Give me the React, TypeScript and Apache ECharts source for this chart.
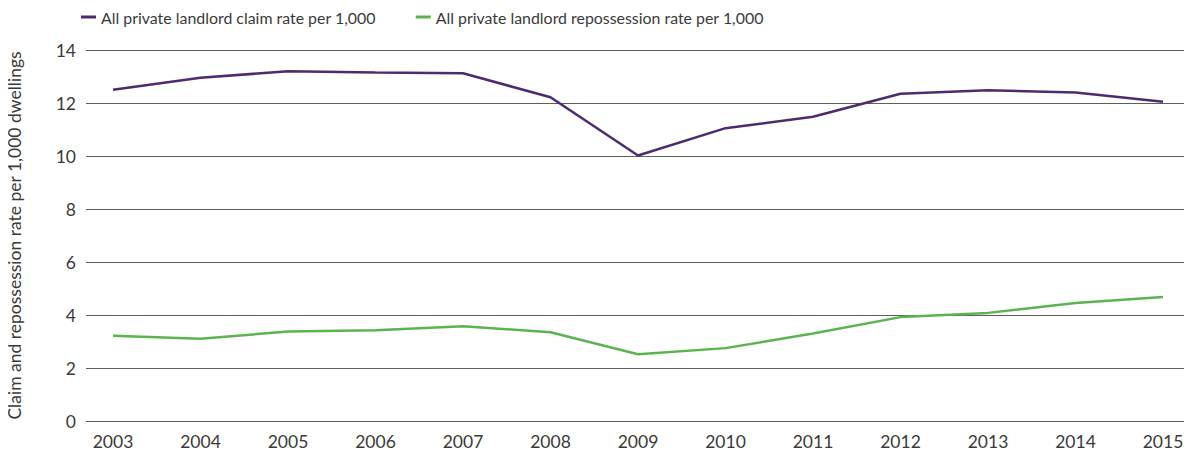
import React, { useEffect, useRef } from "react";
import * as echarts from "echarts";

const years = ["2003", "2004", "2005", "2006", "2007", "2008", "2009", "2010", "2011", "2012", "2013", "2014", "2015"];
const claimRate = [12.5, 12.95, 13.2, 13.15, 13.12, 12.22, 10.02, 11.05, 11.48, 12.35, 12.48, 12.4, 12.05];
const repossessionRate = [3.22, 3.1, 3.38, 3.42, 3.58, 3.35, 2.52, 2.75, 3.3, 3.92, 4.08, 4.45, 4.68];
const seriesNames = ["All private landlord claim rate per 1,000", "All private landlord repossession rate per 1,000"];
const yAxisTitle = "Claim and repossession rate per 1,000 dwellings";

const FONT = "Lato";
const TEXT = "#3a3a3a";

export default function App() {
  const ref = useRef<HTMLDivElement>(null);
  useEffect(() => {
    if (!ref.current) return;
    const chart = echarts.init(ref.current, undefined, { renderer: "svg" });
    chart.setOption({
      animation: false,
      textStyle: { fontFamily: FONT },
      legend: {
        left: 76,
        top: 4,
        icon: "rect",
        itemWidth: 15,
        itemHeight: 3,
        itemGap: 40,
        textStyle: { fontFamily: FONT, fontSize: 15.9, color: TEXT },
        data: seriesNames,
      },
      grid: [
        { left: 86, right: 4, top: 50, bottom: 36, outerBoundsMode: "none" },
        { left: 113, right: 29, top: 50, bottom: 36, outerBoundsMode: "none" },
      ],
      xAxis: [
        {
          gridIndex: 0, type: "value", min: 0, max: 1, show: false,
        },
        {
          gridIndex: 1,
          type: "category",
          data: years,
          boundaryGap: false,
          axisLine: { show: false },
          axisTick: { show: false },
          axisLabel: { fontFamily: FONT, fontSize: 17.5, color: TEXT, margin: 11 },
        },
      ],
      yAxis: [
        {
          gridIndex: 0,
          type: "value",
          min: 0,
          max: 14,
          interval: 2,
          name: yAxisTitle,
          nameLocation: "middle",
          nameGap: 63,
          nameMoveOverlap: false,
          nameTextStyle: { fontFamily: FONT, fontSize: 17.5, color: TEXT },
          axisLine: { show: false },
          axisTick: { show: false },
          axisLabel: { fontFamily: FONT, fontSize: 17.5, color: TEXT, margin: 10 },
          splitLine: { lineStyle: { color: "#5e5e5e", width: 1 } },
        },
        {
          gridIndex: 1, type: "value", min: 0, max: 14, interval: 2, show: false,
          splitLine: { show: false },
        },
      ],
      series: [
        {
          name: seriesNames[0],
          type: "line",
          xAxisIndex: 1,
          yAxisIndex: 1,
          data: claimRate,
          symbol: "none",
          lineStyle: { color: "#4e2a6f", width: 2.5 },
          itemStyle: { color: "#4e2a6f" },
        },
        {
          name: seriesNames[1],
          type: "line",
          xAxisIndex: 1,
          yAxisIndex: 1,
          data: repossessionRate,
          symbol: "none",
          lineStyle: { color: "#5bb450", width: 2.5 },
          itemStyle: { color: "#5bb450" },
        },
      ],
    });
    return () => chart.dispose();
  }, []);
  return <div ref={ref} style={{ width: 1192, height: 457, margin: -8 }} />;
}
